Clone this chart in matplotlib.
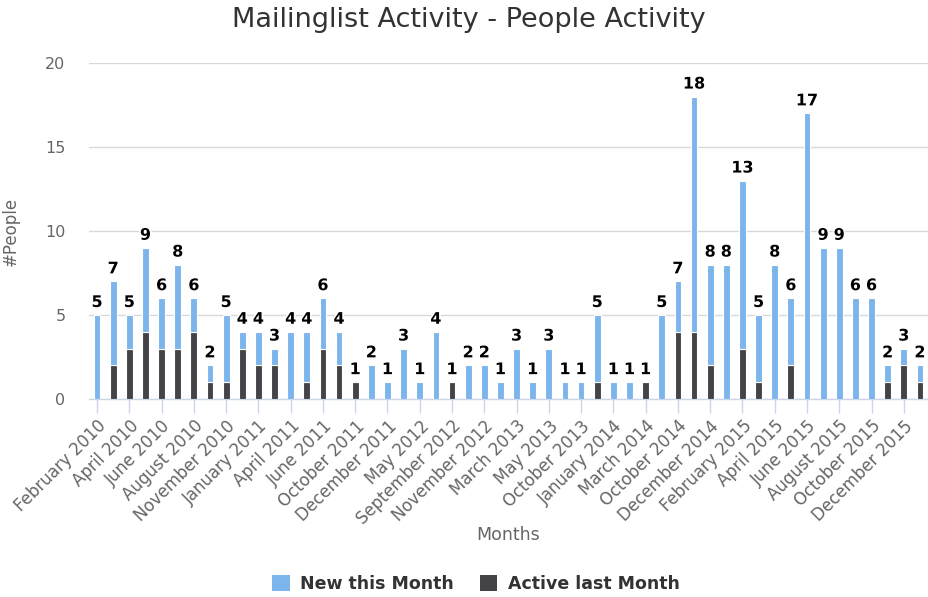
import matplotlib
matplotlib.use("Agg")
import matplotlib.pyplot as plt
from matplotlib.patches import Patch
import matplotlib.patheffects as pe

months = [
    "February 2010", "March 2010", "April 2010", "May 2010", "June 2010",
    "July 2010", "August 2010", "September 2010", "November 2010", "December 2010",
    "January 2011", "March 2011", "April 2011", "May 2011", "June 2011",
    "July 2011", "October 2011", "November 2011", "December 2011", "February 2012",
    "May 2012", "July 2012", "September 2012", "October 2012", "November 2012",
    "January 2013", "March 2013", "April 2013", "May 2013", "July 2013",
    "October 2013", "December 2013", "January 2014", "February 2014", "March 2014",
    "June 2014", "October 2014", "November 2014", "December 2014", "January 2015",
    "February 2015", "March 2015", "April 2015", "May 2015", "June 2015",
    "July 2015", "August 2015", "September 2015", "October 2015", "November 2015",
    "December 2015", "January 2016",
]

new_this_month = [
    5, 5, 2, 5, 3, 5, 2, 1, 4, 1,
    2, 1, 4, 3, 3, 2, 0, 2, 1, 3,
    1, 4, 0, 2, 2, 1, 3, 1, 3, 1,
    1, 4, 1, 1, 0, 5, 3, 14, 6, 8,
    10, 4, 8, 4, 17, 9, 9, 6, 6, 1,
    1, 1,
]

active_last_month = [
    0, 2, 3, 4, 3, 3, 4, 1, 1, 3,
    2, 2, 0, 1, 3, 2, 1, 0, 0, 0,
    0, 0, 1, 0, 0, 0, 0, 0, 0, 0,
    0, 1, 0, 0, 1, 0, 4, 4, 2, 0,
    3, 1, 0, 2, 0, 0, 0, 0, 0, 1,
    2, 1,
]

BLUE = "#7cb5ec"
DARK = "#434348"
FONT = "DejaVu Sans"

W, H = 929, 597
fig = plt.figure(figsize=(W / 100, H / 100), dpi=100)
fig.patch.set_facecolor("white")

left, right, top, bottom = 89, 928, 63, 399
ax = fig.add_axes([left / W, 1 - bottom / H, (right - left) / W, (bottom - top) / H])

x = list(range(len(months)))
width = 0.42
ax.bar(x, active_last_month, width=width, color=DARK, edgecolor="white",
       linewidth=0.8, zorder=3)
ax.bar(x, new_this_month, width=width, bottom=active_last_month, color=BLUE,
       edgecolor="white", linewidth=0.8, zorder=3)

# stack totals above each column
for xi, n, a in zip(x, new_this_month, active_last_month):
    total = n + a
    ax.text(xi, total + 0.3, str(total), ha="center", va="bottom",
            fontsize=11.5, fontweight="bold", color="black", family=FONT,
            zorder=5,
            path_effects=[pe.withStroke(linewidth=2.5, foreground="white")])

ax.set_xlim(-0.5, len(months) - 0.5)
ax.set_ylim(0, 20)
ax.set_yticks([0, 5, 10, 15, 20])
ax.yaxis.grid(True, color="#d8d8d8", linewidth=1, zorder=0)
ax.set_axisbelow(True)

for s in ["top", "right", "left"]:
    ax.spines[s].set_visible(False)
ax.spines["bottom"].set_color("#ccd6eb")
ax.spines["bottom"].set_linewidth(1)

ax.tick_params(axis="y", length=0, labelsize=11.5, labelcolor="#666666", pad=17)
ax.set_xticks(x[::2])
ax.set_xticklabels(months[::2], rotation=45, ha="right", rotation_mode="anchor",
                   fontsize=12, color="#666666", family=FONT)
ax.tick_params(axis="x", length=10, color="#ccd6eb", width=1, pad=3)
for lbl in ax.get_yticklabels():
    lbl.set_family(FONT)

ax.set_ylabel("#People", fontsize=12, color="#666666", family=FONT, labelpad=18)
fig.text(0.5 * (left + right) / W, 1 - 535 / H, "Months", ha="center", va="center",
         fontsize=12.5, color="#666666", family=FONT)

fig.text(469 / W, 1 - 20 / H, "Mailinglist Activity - People Activity",
         ha="center", va="center", fontsize=19.5, color="#333333", family=FONT)

handles = [Patch(facecolor=BLUE, edgecolor="none", label="New this Month"),
           Patch(facecolor=DARK, edgecolor="none", label="Active last Month")]
leg = fig.legend(handles=handles, loc="center", bbox_to_anchor=(476 / W, 1 - 584 / H),
                 ncol=2, frameon=False, handlelength=1.0, handleheight=1.0,
                 handletextpad=0.6, columnspacing=1.5,
                 prop={"family": FONT, "weight": "bold", "size": 12.5})
for t in leg.get_texts():
    t.set_color("#333333")

fig.savefig("out.png", dpi=100, facecolor="white")
